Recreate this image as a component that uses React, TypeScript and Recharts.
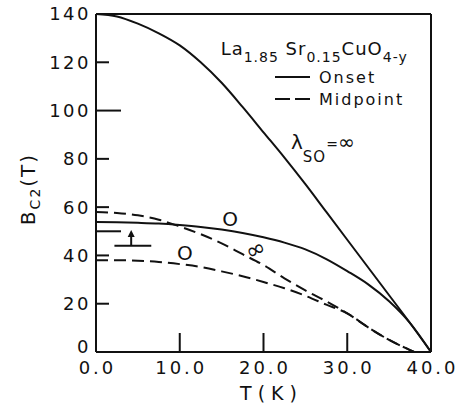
import React from "react";
import {
  LineChart,
  Line,
  XAxis,
  YAxis,
  ReferenceLine,
  ReferenceDot,
  Legend,
} from "recharts";

// B_c2(T) curves
const temps = [0, 2.5, 5, 7.5, 10, 12.5, 15, 17.5, 20, 22.5, 25, 27.5, 30, 32.5, 35, 37.5, 40];
const onsetInf = [140, 139, 136, 132, 127, 120, 111.5, 101.5, 91, 80.5, 69.5, 58, 46.5, 35, 23.5, 12, 0];
const onsetZero = [53.8, 53.7, 53.5, 53.2, 52.6, 51.8, 50.7, 49.3, 47.5, 45.3, 42.5, 38.5, 33.5, 28, 21, 12, 0];

const midTemps = [0, 2.5, 5, 7.5, 10, 12.5, 15, 17.5, 20, 22.5, 25, 27.5, 30, 32.5, 35, 37.5, 38];
const midInf = [58, 57.6, 56.6, 54.8, 52, 48.8, 45, 40.5, 36, 30.5, 25.5, 21, 16, 10.2, 5, 0.8, 0];
const midZero = [38, 38, 37.8, 37.3, 36.4, 35.2, 33.4, 31.4, 29, 26.4, 23.3, 19.6, 16, 10.2, 5, 0.8, 0];

const legendOrder = ["Onset", "Midpoint"];

const xTicks = [0, 10, 20, 30, 40];
const xInnerTicks = [10, 20, 30];
const yTicks = [0, 20, 40, 50, 60, 80, 100, 120, 140];
const yInnerTicks = [20, 40, 50, 60, 80, 100, 120];
const longTicks = [50, 100];

const zip = (ts: number[], bs: number[]) => ts.map((t, i) => ({ t, b: bs[i] }));

const FONT = "'DejaVu Sans', sans-serif";
const INK = "#111";
const axisStyle = { stroke: INK, strokeWidth: 2 };

function LeftTick({ x, y, payload }: any) {
  const v = payload.value;
  const len = longTicks.includes(v) ? 25 : 13;
  return (
    <g>
      {v > 0 && v < 140 && <line x1={x} x2={x + len} y1={y} y2={y} stroke={INK} strokeWidth={2} />}
      {v !== 50 && (
        <text x={x - 5} y={v === 0 ? y - 5 : y} dy="0.36em" textAnchor="end" fontSize={18} letterSpacing={2.5} fontFamily={FONT} fill={INK}>
          {v}
        </text>
      )}
    </g>
  );
}

function RightTick({ x, y, payload }: any) {
  const len = longTicks.includes(payload.value) ? 24 : 12;
  return <line x1={x} x2={x - len} y1={y} y2={y} stroke={INK} strokeWidth={2} />;
}

function BottomTick({ x, y, payload }: any) {
  const v = payload.value;
  return (
    <g>
      {v > 0 && v < 40 && <line x1={x} x2={x} y1={y} y2={y - 19} stroke={INK} strokeWidth={2} />}
      <text x={x + 1.5} y={y + 22} textAnchor="middle" fontSize={18} letterSpacing={3} fontFamily={FONT} fill={INK}>
        {v.toFixed(1)}
      </text>
    </g>
  );
}

function TopTick({ x, y }: any) {
  return <line x1={x} x2={x} y1={y} y2={y + 16} stroke={INK} strokeWidth={2} />;
}

function XTitle({ viewBox }: any) {
  return (
    <text x={viewBox.x + viewBox.width / 2 + 5} y={viewBox.y + 48} textAnchor="middle" fontSize={19} fontFamily={FONT} fill={INK}>
      T ( K )
    </text>
  );
}

function YTitle({ viewBox }: any) {
  const cx = viewBox.x - 1;
  const cy = viewBox.y + viewBox.height / 2 + 6;
  return (
    <text x={cx} y={cy} transform={`rotate(-90 ${cx} ${cy})`} textAnchor="middle" fontSize={20} letterSpacing={2} fontFamily={FONT} fill={INK}>
      B<tspan dy={5} fontSize={14}>C2</tspan>
      <tspan dy={-5} fontSize={20}>(T)</tspan>
    </text>
  );
}

function Formula({ viewBox }: any) {
  return (
    <text x={viewBox.x} y={viewBox.y} fontSize={18} letterSpacing={1} fontFamily={FONT} fill={INK}>
      La<tspan dy={7} fontSize={14}>1.85</tspan>
      <tspan dy={-7} fontSize={18}> Sr</tspan>
      <tspan dy={7} fontSize={14}>0.15</tspan>
      <tspan dy={-7} fontSize={18}>CuO</tspan>
      <tspan dy={7} fontSize={14}>4-y</tspan>
    </text>
  );
}

function LambdaNote({ viewBox }: any) {
  return (
    <text x={viewBox.x} y={viewBox.y} fontSize={20} fontFamily={FONT} fill={INK}>
      λ<tspan dy={13} fontSize={15} letterSpacing={1}>SO</tspan>
      <tspan dy={-13} fontSize={14}>=</tspan>
      <tspan fontSize={20}>∞</tspan>
    </text>
  );
}

const centered = (txt: string, size: number, rot = 0) =>
  function Note({ viewBox }: any) {
    const cx = viewBox.x + 1;
    const cy = viewBox.y + 1;
    return (
      <text x={cx} y={cy} dy="0.36em" textAnchor="middle" fontSize={size} fontFamily={FONT} fill={INK}
        transform={rot ? `rotate(${rot} ${cx} ${cy})` : undefined}>
        {txt}
      </text>
    );
  };
const ZeroNote = centered("O", 20);
const InfNote = centered("∞", 24, -25);

function ArrowHead({ cx, cy }: any) {
  return <path d={`M${cx},${cy} l-3.5,7 l7,0 z`} fill={INK} />;
}

function LegendBox({ payload }: any) {
  const items = (payload || [])
    .filter((e: any) => legendOrder.includes(e.value))
    .sort((a: any, b: any) => legendOrder.indexOf(a.value) - legendOrder.indexOf(b.value));
  return (
    <div style={{ fontFamily: FONT, fontSize: 16, letterSpacing: 2, color: INK }}>
      {items.map((e: any) => (
        <div key={e.value} style={{ display: "flex", alignItems: "center", height: 22 }}>
          <svg width={38} height={4}>
            <line x1={2} x2={37} y1={2} y2={2} stroke={INK} strokeWidth={2}
              strokeDasharray={e.payload?.strokeDasharray ? "15 5" : undefined} />
          </svg>
          <span style={{ marginLeft: 8 }}>{e.value}</span>
        </div>
      ))}
    </div>
  );
}

const ids = { xAxisId: "b", yAxisId: "l" };
const dot = { ...ids, r: 1, fill: "none", stroke: "none", ifOverflow: "visible" as const };
const seg = { ...ids, stroke: INK, strokeWidth: 2, ifOverflow: "visible" as const };

export default function App() {
  return (
    <div style={{ position: "absolute", left: 0, top: 0, width: 466, height: 418, background: "#fff" }}>
      <LineChart width={466} height={418} margin={{ top: 13, right: 34, bottom: 16, left: 36 }}>
        <XAxis xAxisId="b" type="number" dataKey="t" domain={[0, 40]} ticks={xTicks} interval={0}
          height={50} tickSize={0} tickMargin={0} tickLine={false} axisLine={axisStyle}
          tick={(p: any) => <BottomTick {...p} />} label={<XTitle />} />
        <XAxis xAxisId="t" orientation="top" type="number" dataKey="t" domain={[0, 40]} ticks={xInnerTicks} interval={0}
          height={1} tickSize={0} tickMargin={0} tickLine={false} axisLine={axisStyle}
          tick={(p: any) => <TopTick {...p} />} />
        <YAxis yAxisId="l" type="number" domain={[0, 140]} ticks={yTicks} interval={0}
          width={60} tickSize={0} tickMargin={0} tickLine={false} axisLine={axisStyle}
          tick={(p: any) => <LeftTick {...p} />} label={<YTitle />} />
        <YAxis yAxisId="r" orientation="right" type="number" domain={[0, 140]} ticks={yInnerTicks} interval={0}
          width={1} tickSize={0} tickMargin={0} tickLine={false} axisLine={axisStyle}
          tick={(p: any) => <RightTick {...p} />} />

        <Legend layout="vertical" align="center" verticalAlign="middle" content={<LegendBox />}
          wrapperStyle={{ left: 273, top: 66, width: 170 }} />

        <Line {...ids} name="Onset" data={zip(temps, onsetInf)} dataKey="b" type="monotone"
          stroke={INK} strokeWidth={2} dot={false} isAnimationActive={false} />
        <Line {...ids} name="Midpoint" data={zip(midTemps, midInf)} dataKey="b" type="monotone"
          stroke={INK} strokeWidth={2} strokeDasharray="12 6" dot={false} isAnimationActive={false} />
        <Line {...ids} name="Onset λ=0" legendType="none" data={zip(temps, onsetZero)} dataKey="b" type="monotone"
          stroke={INK} strokeWidth={2} dot={false} isAnimationActive={false} />
        <Line {...ids} name="Midpoint λ=0" legendType="none" data={zip(midTemps, midZero)} dataKey="b" type="monotone"
          stroke={INK} strokeWidth={2} strokeDasharray="12 6" dot={false} isAnimationActive={false} />

        {/* lower-bound marker */}
        <ReferenceLine {...seg} segment={[{ x: 2.2, y: 44 }, { x: 6.6, y: 44 }]} />
        <ReferenceLine {...seg} segment={[{ x: 4.2, y: 44 }, { x: 4.2, y: 48 }]} />
        <ReferenceDot {...ids} x={4.2} y={50.5} r={4} ifOverflow="visible" shape={(p: any) => <ArrowHead {...p} />} />

        <ReferenceDot {...dot} x={15} y={122.6} label={<Formula />} />
        <ReferenceDot {...dot} x={23.4} y={83.7} label={<LambdaNote />} />
        <ReferenceDot {...dot} x={16} y={55.1} label={<ZeroNote />} />
        <ReferenceDot {...dot} x={10.6} y={41} label={<ZeroNote />} />
        <ReferenceDot {...dot} x={19} y={42.7} label={<InfNote />} />
      </LineChart>
    </div>
  );
}
